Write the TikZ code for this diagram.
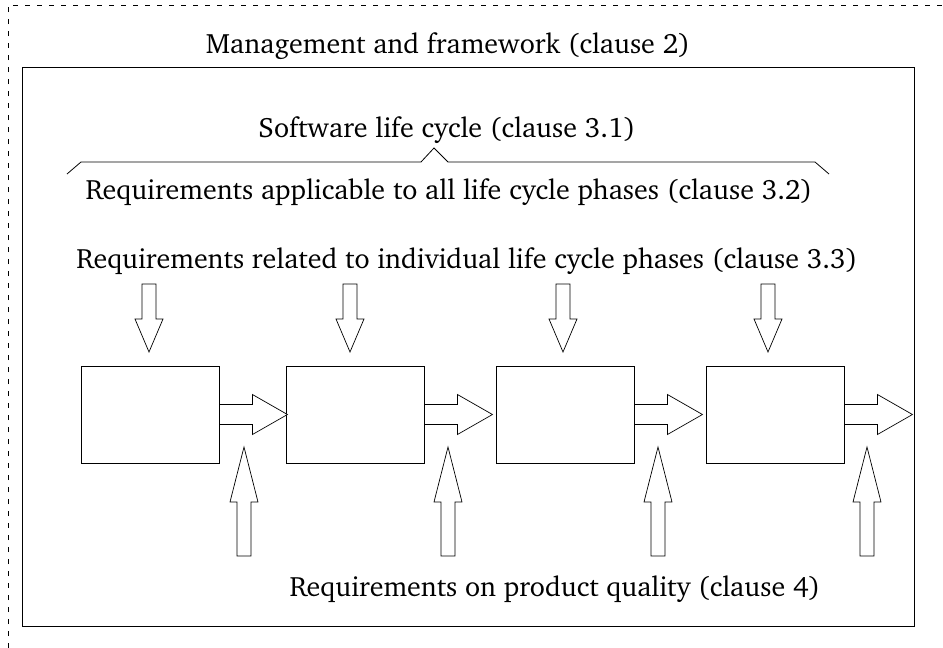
\documentclass[tikz,border=0pt]{standalone}
\usepackage[T1]{fontenc}
\usepackage{charter}
\usetikzlibrary{positioning}

\tikzset{
	phase/.style={draw, line width=0.9pt, minimum width=138pt, minimum height=97pt, inner sep=0pt},
	caption/.style={font=\fontsize{28}{32}\selectfont, anchor=base, inner sep=0pt},
	hollow/.style={draw, line width=0.7pt, fill=white, line join=miter},
}
\newcommand{\blockarrow}[6]{%
	\draw[hollow, shift={(#1)}, rotate=#2] (0,-#3) -- ++(#4,0) -- ++(0,#3-#5) -- (#4+#6,0) -- (#4,#5) -- ++(0,#3-#5) -- (0,#3) -- cycle;
}

\begin{document}
\begin{tikzpicture}[x=1pt, y=-1pt]
	\useasboundingbox (0,0) rectangle (943,648);
	\draw[line width=0.6pt, dash pattern=on 5pt off 7pt] (8,648) -- (8,5) -- (943,5);
	\draw[line width=0.9pt] (22,67) rectangle (914,626);

	\node[caption] (frame) at (448,53) {Management and framework (clause 2)};
	\node[caption] (lifecycle) at (447,137) {Software life cycle (clause 3.1)};
	\node[caption] (general) at (449,199) {Requirements applicable to all life cycle phases (clause 3.2)};
	\node[caption] (individual) at (467,268) {Requirements related to individual life cycle phases (clause 3.3)};
	\node[caption] (quality) at (555,596) {Requirements on product quality (clause 4)};

	\draw[line width=0.8pt] (67,174) -- (81,162) -- (421,162) -- (434,148) -- (448,162) -- (815,162) -- (829,174);

	\node[phase] (phase1) at (150,414.5) {};
	\node[phase] (phase2) at (355,414.5) {};
	\node[phase] (phase3) at (565,414.5) {};
	\node[phase] (phase4) at (775,414.5) {};

	\foreach \p in {1,...,4}{
		\blockarrow{phase\p.east}{0}{10}{33}{20}{35}
	}
	\foreach \x in {149,350,563,768}{
		\blockarrow{\x,284}{-90}{7}{35}{14}{33}
	}
	\foreach \x in {244,448,658,867}{
		\blockarrow{\x,556}{90}{7}{54}{14}{55}
	}
\end{tikzpicture}
\end{document}
